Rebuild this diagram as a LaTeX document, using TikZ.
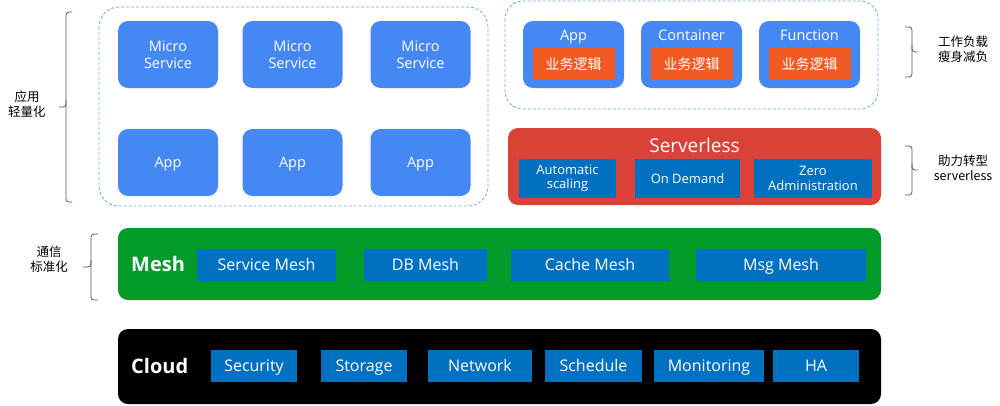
\documentclass[tikz,border=0pt]{standalone}
\usepackage{fontspec}
\setmainfont{Open Sans}
\newfontfamily\cjk{Noto Sans CJK SC}
\definecolor{lblue}{HTML}{4587F3}
\definecolor{dblue}{HTML}{0070C0}
\definecolor{orng}{HTML}{F15A22}
\definecolor{rred}{HTML}{DA4237}
\definecolor{grn}{HTML}{039B29}
\definecolor{dashc}{HTML}{6EA6F0}
\definecolor{brk}{HTML}{555555}
\begin{document}
\begin{tikzpicture}[x=1pt,y=-1pt,
  lbox/.style={fill=lblue, rounded corners=10pt, text=white, font=\fontsize{14.5}{17}\selectfont, align=center, inner sep=0pt},
  one/.style={text height=10.5pt, text depth=0pt},
  obox/.style={fill=orng, text=white, font=\cjk\fontsize{14}{17}\selectfont, inner sep=0pt, minimum width=82pt, minimum height=32pt},
  dbox/.style={fill=dblue, text=white, align=center, inner sep=0pt},
  sbox/.style={dbox, font=\fontsize{13}{14.5}\selectfont, minimum height=39pt},
  mbox/.style={dbox, font=\fontsize{16}{18}\selectfont, minimum height=32pt, text height=11.5pt, text depth=0pt},
  layer/.style={rounded corners=10pt, inner sep=0pt},
  grp/.style={draw=dashc, dashed, dash pattern=on 3pt off 2pt, line width=0.8pt},
  brace/.style={draw=brk, line width=0.8pt, rounded corners=3pt},
  side/.style={font=\cjk\fontsize{12.5}{15}\selectfont, align=center, text=black},
  wl/.style={text=white, font=\fontsize{14.5}{17}\selectfont, inner sep=0pt, one}
]
\useasboundingbox (0,0) rectangle (1000,405);

% left group
\draw[grp, rounded corners=20pt] (99,7) rectangle (488,206);
\node[lbox, minimum width=100pt, minimum height=67pt] (ms1) at (168,54.5) {Micro\\Service};
\node[lbox, minimum width=100pt, minimum height=67pt] (ms2) at (292.5,54.5) {Micro\\Service};
\node[lbox, minimum width=100pt, minimum height=67pt] (ms3) at (420.5,54.5) {Micro\\Service};
\node[lbox, one, minimum width=100pt, minimum height=67pt] (ap1) at (168,162.5) {App};
\node[lbox, one, minimum width=100pt, minimum height=67pt] (ap2) at (292.5,162.5) {App};
\node[lbox, one, minimum width=100pt, minimum height=67pt] (ap3) at (420.5,162.5) {App};

% right group
\draw[grp, rounded corners=18pt] (505,1) rectangle (878,109);
\node[lbox, minimum width=101pt, minimum height=67pt] (wa) at (573.5,54.5) {};
\node[lbox, minimum width=101pt, minimum height=67pt] (wc) at (691.5,54.5) {};
\node[lbox, minimum width=101pt, minimum height=67pt] (wf) at (809.5,54.5) {};
\node[wl] (wat) at (573.5,35) {App};
\node[wl] (wct) at (691.5,35) {Container};
\node[wl] (wft) at (809.5,35) {Function};
\node[obox] (wal) at (573.5,64) {业务逻辑};
\node[obox] (wcl) at (691.5,64) {业务逻辑};
\node[obox] (wfl) at (809.5,64) {业务逻辑};

% serverless
\node[layer, fill=rred, minimum width=373pt, minimum height=77pt] (sl) at (694.5,166.5) {};
\node[text=white, font=\fontsize{19}{21}\selectfont, inner sep=0pt, text height=13.5pt, text depth=0pt] (slt) at (694.5,145.5) {Serverless};
\node[sbox, minimum width=97pt] (s1) at (567.5,178.5) {Automatic\\scaling};
\node[sbox, minimum width=105pt, text height=9.5pt, text depth=0pt] (s2) at (687.5,178.5) {On Demand};
\node[sbox, minimum width=118pt] (s3) at (813,178.5) {Zero\\Administration};

% mesh
\node[layer, fill=grn, minimum width=763pt, minimum height=72pt] (mesh) at (499.5,264) {};
\node[anchor=west, text=white, font=\bfseries\fontsize{20}{22}\selectfont, inner sep=0pt, text height=14pt, text depth=0pt] (mt) at (131,264) {Mesh};
\node[mbox, minimum width=139pt] (m1) at (266.5,265) {Service Mesh};
\node[mbox, minimum width=123pt] (m2) at (425.5,265) {DB Mesh};
\node[mbox, minimum width=158pt] (m3) at (590,265) {Cache Mesh};
\node[mbox, minimum width=170pt] (m4) at (781,265) {Msg Mesh};

% cloud
\node[layer, fill=black, minimum width=763pt, minimum height=75pt] (cloud) at (499.5,366.5) {};
\node[anchor=west, text=white, font=\bfseries\fontsize{20}{22}\selectfont, inner sep=0pt, text height=14pt, text depth=0pt] (ct) at (131,366.5) {Cloud};
\node[mbox, minimum width=86pt] (c1) at (254,366) {Security};
\node[mbox, minimum width=86pt] (c2) at (364,366) {Storage};
\node[mbox, minimum width=104pt] (c3) at (480,366) {Network};
\node[mbox, minimum width=97pt] (c4) at (593.5,366) {Schedule};
\node[mbox, minimum width=110pt] (c5) at (709,366) {Monitoring};
\node[mbox, minimum width=86pt] (c6) at (816,366) {HA};

% braces
\draw[brace] (72,12) -- (66,12) -- (66,107) -- (59,107);
\draw[brace] (66,100) -- (66,202) -- (72,202);
\node[side] (lb1) at (27,104) {应用\\轻量化};

\draw[brace] (98,234) -- (91,234) -- (91,267) -- (83,267);
\draw[brace] (91,260) -- (91,300) -- (98,300);
\node[side] (lb2) at (49,259.5) {通信\\标准化};

\draw[brace] (905,27) -- (912,27) -- (912,52) -- (918,52);
\draw[brace] (912,45) -- (912,77) -- (905,77);
\node[side] (lb3) at (963,49.5) {工作负载\\瘦身减负};

\draw[brace] (905,146) -- (912,146) -- (912,170) -- (918,170);
\draw[brace] (912,163) -- (912,195) -- (905,195);
\node[side] (lb4) at (963,168) {助力转型\\serverless};
\end{tikzpicture}
\end{document}
